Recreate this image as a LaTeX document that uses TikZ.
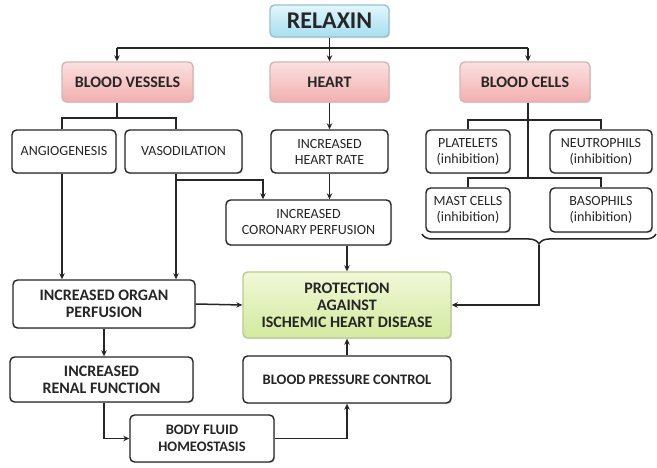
\documentclass[tikz,border=0pt]{standalone}
\usepackage{fontspec}
\setmainfont{Carlito}
\usetikzlibrary{arrows.meta,shadows,decorations.pathreplacing}
\definecolor{ln}{HTML}{262626}
\definecolor{txt}{HTML}{262626}
\definecolor{pink1}{HTML}{FBE0E0}
\definecolor{pink2}{HTML}{F3AFAF}
\definecolor{pink3}{HTML}{D0B8B8}
\definecolor{cyan1}{HTML}{E2F6FC}
\definecolor{cyan2}{HTML}{A6DFF0}
\definecolor{green1}{HTML}{F1F8D8}
\definecolor{green2}{HTML}{D2EA9E}
\tikzset{
  box/.style={draw=ln, line width=1.4pt, rounded corners=4.5pt, fill=white, align=center, inner sep=1pt, text=txt,
    drop shadow={opacity=0.25, shadow xshift=1.2pt, shadow yshift=-1.2pt}},
  reg/.style={font=\fontsize{14}{16}\selectfont},
  bld/.style={font=\fontsize{16}{17}\selectfont\bfseries},
  bldsm/.style={font=\fontsize{14.5}{16.5}\selectfont\bfseries},
  pinkbox/.style={box, top color=pink1, bottom color=pink2, draw=pink3, bld},
  ln/.style={draw=ln, line width=1.5pt},
  arr/.style={ln, -{Stealth[length=6pt,width=5.5pt]}},
}
\begin{document}
\begin{tikzpicture}[x=1pt,y=-1pt]
\useasboundingbox[fill=white] (0,0) rectangle (657,468);
% nodes
\node[box, top color=cyan1, bottom color=cyan2, draw=cyan2!70!gray, minimum width=119pt, minimum height=32pt,
  font=\fontsize{24}{26}\selectfont\bfseries] (relaxin) at (329.5,21) {RELAXIN};
\node[pinkbox, minimum width=131pt, minimum height=40pt] (bv) at (127.5,82) {BLOOD VESSELS};
\node[pinkbox, minimum width=119pt, minimum height=40pt] (heart) at (329.5,82) {HEART};
\node[pinkbox, minimum width=130pt, minimum height=40pt] (bc) at (525,82) {BLOOD CELLS};

\node[box, reg, minimum width=104pt, minimum height=43pt] (ang) at (64,151.5) {ANGIOGENESIS};
\node[box, reg, minimum width=117pt, minimum height=43pt] (vaso) at (183.5,151.5) {VASODILATION};
\node[box, reg, minimum width=117pt, minimum height=43pt] (hr) at (329.5,151.5) {INCREASED\\HEART RATE};
\node[box, reg, minimum width=165pt, minimum height=45pt] (cor) at (308.5,222.5) {INCREASED\\CORONARY PERFUSION};

\node[box, reg, minimum width=84pt, minimum height=43pt] (plat) at (468,151.5) {PLATELETS\\(inhibition)};
\node[box, reg, minimum width=102pt, minimum height=43pt] (neut) at (601,151.5) {NEUTROPHILS\\(inhibition)};
\node[box, reg, minimum width=84pt, minimum height=44pt] (mast) at (468,210) {MAST CELLS\\(inhibition)};
\node[box, reg, minimum width=102pt, minimum height=44pt] (baso) at (601,210) {BASOPHILS\\(inhibition)};

\node[box, bld, minimum width=182pt, minimum height=48pt] (organ) at (104,304) {INCREASED ORGAN\\PERFUSION};
\node[box, bld, top color=green1, bottom color=green2, draw=green2!70!gray, minimum width=208pt, minimum height=66pt] (prot) at (347,305) {PROTECTION\\AGAINST\\ISCHEMIC HEART DISEASE};
\node[box, bld, minimum width=183pt, minimum height=45pt] (renal) at (101.5,379.5) {INCREASED\\RENAL FUNCTION};
\node[box, bldsm, minimum width=208pt, minimum height=47pt] (bp) at (347,379.5) {BLOOD PRESSURE CONTROL};
\node[box, bldsm, minimum width=144pt, minimum height=47pt] (body) at (202,438.5) {BODY FLUID\\HOMEOSTASIS};

% coordinates
\coordinate (busL) at (117,48);
\coordinate (busR) at (528,48);
\coordinate (bvj) at (117,118);
\coordinate (bvL) at (62,118);
\coordinate (bvR) at (176,118);
\coordinate (vk) at (176,180);
\coordinate (vk2) at (263,180);
\coordinate (bcj1) at (528,120);
\coordinate (bcj2) at (528,178);
\coordinate (bt) at (539,245);

% relaxin
\draw[ln] (relaxin.south) -- (relaxin.south|-busL);
\draw[ln] (busL) -- (busR);
\draw[arr] (busL) -- (busL|-bv.north);
\draw[arr] (relaxin.south|-busL) -- (heart.north);
\draw[arr] (busR) -- (busR|-bc.north);

% blood vessels
\draw[ln] (bvj|-bv.south) -- (bvj);
\draw[ln] (bvL|-ang.north) -- (bvL) -- (bvR) -- (bvR|-vaso.north);
\draw[arr] (bvL|-ang.south) -- (bvL|-organ.north);
\draw[arr] (bvR|-vaso.south) -- (bvR|-organ.north);
\draw[arr] (vk) -- (vk2) -- (vk2|-cor.north);

% heart
\draw[arr] (heart.south) -- (hr.north);
\draw[arr] (hr.south) -- (hr.south|-cor.north);
\draw[arr] (prot.north|-cor.south) -- (prot.north);

% blood cells
\draw[ln] (bcj1|-bc.south) -- (bcj2);
\draw[ln] (plat.north) |- (bcj1) -| (neut.north);
\draw[ln] (mast.north) |- (bcj2) -| (baso.north);
\draw[ln, decorate, decoration={brace, amplitude=10pt, mirror}] (422,234) -- (656,234);
\draw[arr] (bt) |- (prot.east);

% lower
\draw[arr] (organ.east) -- (prot.west);
\draw[arr] (organ.south) -- (organ.south|-renal.north);
\draw[arr] (organ.south|-renal.south) |- (body.west);
\draw[arr] (body.east) -| (bp.south);
\draw[arr] (bp.north) -- (prot.south);
\end{tikzpicture}
\end{document}
